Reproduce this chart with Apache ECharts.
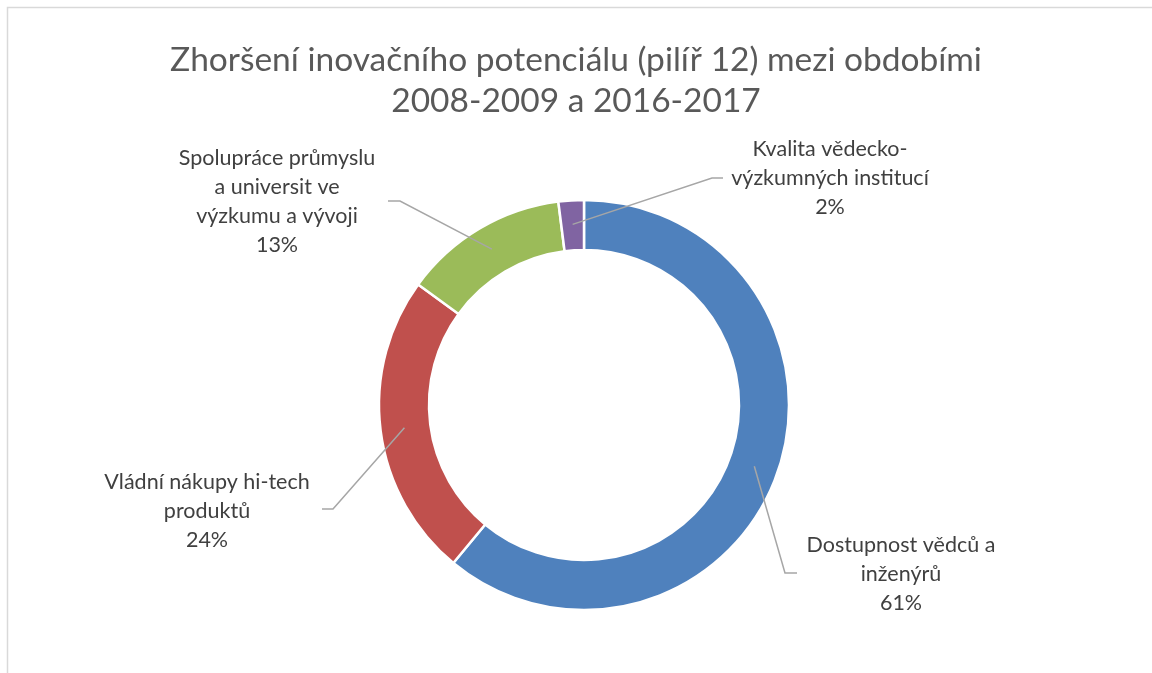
<!DOCTYPE html>
<html>
<head>
<meta charset="utf-8">
<script src="https://cdn.jsdelivr.net/npm/echarts@6/dist/echarts.min.js"></script>
<style>
html,body{margin:0;padding:0;background:#fff;}
#chart{width:1152px;height:673px;}
</style>
</head>
<body>
<div id="chart"></div>
<script>
const titleText = 'Zhoršení inovačního potenciálu (pilíř 12) mezi obdobími\n2008-2009 a 2016-2017';
const categories = [
  'Dostupnost vědců a\ninženýrů',
  'Vládní nákupy hi-tech\nproduktů',
  'Spolupráce průmyslu\na universit ve\nvýzkumu a vývoji',
  'Kvalita vědecko-\nvýzkumných institucí'
];
const values = [61, 24, 13, 2];
const colors = ['#4F81BD', '#C0504D', '#9BBB59', '#8064A2'];

// label placement (centre of text block) and leader line elbow / end
const labelSpots = [
  { x: 901, y: 574, elbow: [785, 573], end: [797, 573] },
  { x: 207, y: 511, elbow: [333, 509], end: [322, 509] },
  { x: 277, y: 202, elbow: [400, 201], end: [388, 201] },
  { x: 830, y: 178, elbow: [712, 178], end: [723, 178] }
];
const cx = 584, cy = 405, rIn = 155, rOut = 205, rLine = 181;

const total = values.reduce((a, b) => a + b, 0);
const midFrac = [];
let acc = 0;
values.forEach(v => { midFrac.push((acc + v / 2) / total); acc += v; });

// leader lines: start inside the ring at each slice's mid angle
const leaderGraphics = values.map((v, i) => {
  const a = midFrac[i] * Math.PI * 2;
  const start = [cx + rLine * Math.sin(a), cy - rLine * Math.cos(a)];
  const s = labelSpots[i];
  return {
    type: 'polyline',
    z: 100,
    silent: true,
    shape: { points: [start, s.elbow, s.end] },
    style: { stroke: '#A6A6A6', lineWidth: 1.5, fill: null }
  };
});

const chart = echarts.init(document.getElementById('chart'));
chart.setOption({
  backgroundColor: '#fff',
  animation: false,
  title: {
    text: titleText,
    left: 'center',
    top: 35,
    textStyle: {
      fontFamily: 'Lato',
      fontSize: 33.5,
      fontWeight: 'normal',
      color: '#595959',
      lineHeight: 41,
      align: 'center'
    }
  },
  graphic: [{
    type: 'rect',
    shape: { x: 7.5, y: 7.5, width: 1200, height: 700 },
    style: { fill: 'none', stroke: '#D9D9D9', lineWidth: 1.5 },
    silent: true
  }].concat(leaderGraphics),
  series: [{
    type: 'pie',
    center: [cx, cy],
    radius: [rIn, rOut],
    startAngle: 90,
    clockwise: true,
    avoidLabelOverlap: false,
    itemStyle: { borderColor: '#fff', borderWidth: 2.5 },
    label: {
      show: true,
      formatter: p => p.name + '\n' + Math.round(p.percent) + '%',
      fontFamily: 'Lato',
      fontSize: 21.5,
      lineHeight: 29,
      color: '#404040',
      align: 'center'
    },
    labelLine: { show: false },
    labelLayout: function (params) {
      const s = labelSpots[params.dataIndex];
      return { x: s.x, y: s.y, align: 'center', verticalAlign: 'middle' };
    },
    data: categories.map((c, i) => ({
      name: c,
      value: values[i],
      itemStyle: { color: colors[i] }
    }))
  }]
});
</script>
</body>
</html>
